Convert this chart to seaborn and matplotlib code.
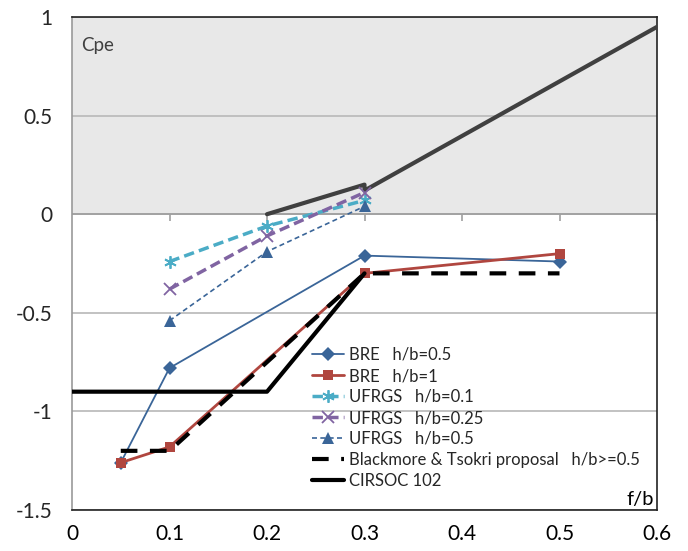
import numpy as np
import pandas as pd
import matplotlib
matplotlib.use("Agg")
import matplotlib.pyplot as plt
import seaborn as sns

# f/b values and Cpe
bre05_x = [0.05, 0.1, 0.3, 0.5]
bre05_y = [-1.26, -0.78, -0.21, -0.24]
bre1_x = [0.05, 0.1, 0.3, 0.5]
bre1_y = [-1.26, -1.18, -0.30, -0.20]
uf01_x = [0.1, 0.2, 0.3]
uf01_y = [-0.24, -0.06, 0.07]
uf025_x = [0.1, 0.2, 0.3]
uf025_y = [-0.38, -0.11, 0.11]
uf05_x = [0.1, 0.2, 0.3]
uf05_y = [-0.54, -0.19, 0.04]
bt_x = [0.05, 0.1, 0.3, 0.5]
bt_y = [-1.2, -1.2, -0.3, -0.3]
cir_x = [0.0, 0.2, 0.3]
cir_y = [-0.9, -0.9, -0.3]
pos_x = [0.2, 0.3, 0.3, 0.6]
pos_y = [0.0, 0.15, 0.12, 0.95]

xticks = [0, 0.1, 0.2, 0.3, 0.4, 0.5, 0.6]
xlabels = ["0", "0.1", "0.2", "0.3", "0.4", "0.5", "0.6"]
yticks = [1, 0.5, 0, -0.5, -1, -1.5]
ylabels = ["1", "0.5", "0", "-0.5", "-1", "-1.5"]

sns.set_style("white")
plt.rcParams['font.family'] = ['Lato', 'DejaVu Sans']

fig = plt.figure(figsize=(6.88, 5.51), dpi=100)
ax = fig.add_axes([72/688, 1-510/551, 585/688, 493/551])

ax.axhspan(0, 1, color='#e8e8e8', zorder=0, lw=0)

def draw(x, y, **kw):
    sns.lineplot(x=x, y=y, ax=ax, sort=False, estimator=None, **kw)

draw(pos_x, pos_y, color='#404040', lw=3, zorder=3)
draw(bre05_x, bre05_y, color='#3a6598', lw=1.3, marker='D', markersize=7,
     markeredgewidth=0, label='BRE   h/b=0.5', zorder=4)
draw(bre1_x, bre1_y, color='#b0463f', lw=2, marker='s', markersize=7,
     markeredgewidth=0, label='BRE   h/b=1', zorder=4)
draw(uf01_x, uf01_y, color='#4bacc6', lw=2.5, linestyle=(0, (3, 1.5)), marker=(6, 2, 0),
     markersize=9, markeredgewidth=1.3, markeredgecolor='#4bacc6', label='UFRGS   h/b=0.1', zorder=4)
draw(uf025_x, uf025_y, color='#8064a2', lw=2.5, linestyle=(0, (3, 1.5)), marker='x',
     markersize=8, markeredgewidth=1.3, markeredgecolor='#8064a2', label='UFRGS   h/b=0.25', zorder=4)
draw(uf05_x, uf05_y, color='#3a6598', lw=1.2, linestyle=(0, (3, 2)), marker='^',
     markersize=8, markeredgewidth=0, label='UFRGS   h/b=0.5', zorder=4)
draw(bt_x, bt_y, color='black', lw=3, linestyle=(0, (4, 3)),
     label='Blackmore & Tsokri proposal   h/b>=0.5', zorder=5)
draw(cir_x, cir_y, color='black', lw=3, label='CIRSOC 102', zorder=5)

ax.set_xlim(0, 0.6)
ax.set_ylim(-1.5, 1)
ax.set_xticks(xticks)
ax.set_xticklabels(xlabels)
ax.set_yticks(yticks)
ax.set_yticklabels(ylabels)
ax.tick_params(axis='x', length=0, pad=10, labelsize=15, colors='black')
ax.tick_params(axis='y', length=8, width=1, color='#999999', pad=6, labelsize=15)
ax.yaxis.grid(True, color='#b8b8b8', lw=1.2, zorder=1)
ax.set_axisbelow(True)

# x axis drawn at Cpe = 0
ax.axhline(0, color='#a0a0a0', lw=1.3, zorder=2)
ax.vlines(xticks[1:], -0.032, 0, color='#a0a0a0', lw=1.2, zorder=2)

for s in ['top', 'right', 'bottom']:
    ax.spines[s].set_color('#222222')
    ax.spines[s].set_linewidth(1.2)
ax.spines['left'].set_color('#999999')
ax.spines['left'].set_linewidth(1.2)

ax.text(0.015, 0.96, 'Cpe', transform=ax.transAxes, fontsize=13.5, color='#404040',
        va='top', ha='left')
ax.text(0.995, 0.005, 'f/b', transform=ax.transAxes, fontsize=14.5, color='black',
        va='bottom', ha='right')

ax.set_xlabel('')
ax.set_ylabel('')
leg = ax.legend(loc='upper left', bbox_to_anchor=(312/688, 1-347/551),
                bbox_transform=fig.transFigure, frameon=False, fontsize=12,
                handlelength=1.9, handletextpad=0.3, labelspacing=0.3,
                borderaxespad=0, borderpad=0)

fig.savefig('out.png', dpi=100)
